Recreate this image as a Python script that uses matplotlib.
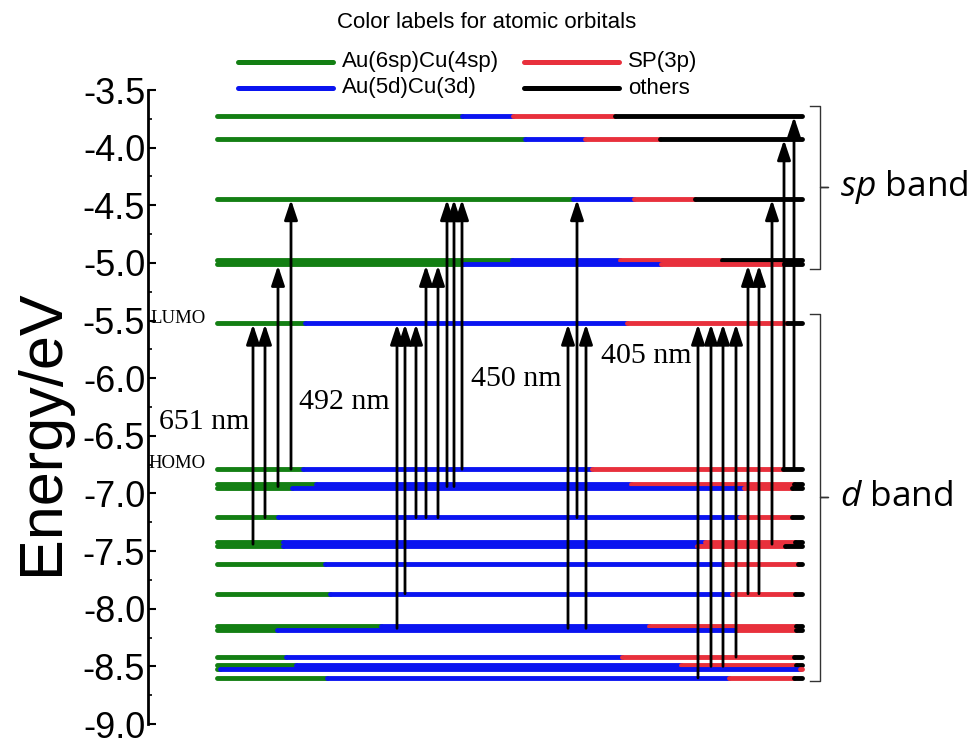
import matplotlib
matplotlib.use('Agg')
import matplotlib.pyplot as plt
from matplotlib.lines import Line2D

plt.rcParams['font.family'] = ['Liberation Sans', 'DejaVu Sans']
plt.rcParams['axes.unicode_minus'] = False
plt.rcParams['mathtext.fontset'] = 'custom'
plt.rcParams['mathtext.it'] = 'Open Sans:italic'
plt.rcParams['mathtext.rm'] = 'Open Sans'

# orbital levels (eV); near-degenerate pairs are listed as two rows
level_E = [-3.723, -3.921, -4.444, -4.972, -5.008, -5.517, -6.788, -6.920, -6.955,
           -7.208, -7.425, -7.458, -7.612, -7.869, -8.153, -8.187, -8.418, -8.487,
           -8.521, -8.601]
# x where each colour segment ends (green, blue, red); black runs to the end
green_end = [462, 525, 573, 512, 463, 305, 303, 316, 292, 278, 283, 283, 325, 330,
             381, 277, 286, 296, 220, 327]
blue_end = [513, 585, 634, 620, 661, 627, 592, 631, 744, 740, 705, 697, 725, 732,
            649, 737, 622, 681, 800, 729]
red_end = [615, 660, 695, 722, 784, 787, 783, 794, 792, 792, 795, 785, 798, 795,
           796, 796, 794, 796, 802, 794]
x_start, x_stop = 217, 802

# excitation arrows: x position, starting level, final level
arrow_x = [253, 265, 278, 291, 397, 405, 416, 426, 438, 447, 454, 462,
           568, 577, 586, 698, 711, 723, 736, 748, 759, 772, 784, 794]
arrow_from = [-7.44, -7.21, -6.94, -6.79, -8.17, -7.87, -7.21, -7.21, -7.21, -6.94,
              -6.94, -6.79, -8.17, -7.21, -8.17, -8.60, -8.50, -8.50, -8.42, -7.87,
              -7.87, -7.44, -6.79, -6.79]
arrow_to = [-5.52, -5.52, -5.01, -4.44, -5.52, -5.52, -5.52, -5.01, -5.01, -4.44,
            -4.44, -4.44, -5.52, -4.44, -5.52, -5.52, -5.52, -5.52, -5.52, -5.01,
            -5.01, -4.44, -3.92, -3.72]

wavelengths = ['651 nm', '492 nm', '450 nm', '405 nm']
wl_x = [204, 344, 516, 646]
wl_E = [-6.38, -6.21, -6.01, -5.81]

orbital_labels = ['Au(6sp)Cu(4sp)', 'Au(5d)Cu(3d)', 'SP(3p)', 'others']
colors = ['#137f13', '#0a14f0', '#e8303c', '#000000']

W, H = 975, 747
top_px, bot_px = 90, 724
fig = plt.figure(figsize=(W / 100, H / 100), dpi=100)
ax = fig.add_axes([148 / W, 1 - bot_px / H, (W - 148) / W, (bot_px - top_px) / H])
ax.set_xlim(148, W)
ax.set_ylim(-9.0, -3.5)

for E, g, b, r in zip(level_E, green_end, blue_end, red_end):
    segs = [(x_start, g), (g, b), (b, r), (r, x_stop)]
    for (x0, x1), c in zip(segs, colors):
        if x1 > x0:
            ax.plot([x0, x1], [E, E], color=c, lw=3.5, solid_capstyle='round', zorder=2)

for x, e0, e1 in zip(arrow_x, arrow_from, arrow_to):
    ax.annotate('', xy=(x, e1), xytext=(x, e0),
                arrowprops=dict(arrowstyle='-|>,head_length=0.6,head_width=0.2',
                                mutation_scale=20, lw=2.0, color='k',
                                shrinkA=0, shrinkB=1.0), zorder=3)

for t, x, e in zip(wavelengths, wl_x, wl_E):
    ax.text(x, e, t, ha='center', va='center', fontsize=21.5,
            family='Liberation Serif', zorder=4)

ax.text(150, -5.48, 'LUMO', ha='left', va='center', fontsize=13.5,
        family='Liberation Serif')
ax.text(148, -6.74, 'HOMO', ha='left', va='center', fontsize=13.5,
        family='Liberation Serif')

# band brackets
for top, bot, mid, lab in [(-3.64, -5.05, -4.34, r'$sp$ band'),
                           (-5.44, -8.63, -7.03, r'$d$ band')]:
    ax.plot([810, 820, 820, 828, 820, 820, 810], [top, top, mid, mid, mid, bot, bot],
            color='#333333', lw=1.0, clip_on=False)
    ax.text(840, mid, lab, ha='left', va='center', fontsize=25.5, family='Open Sans')

ax.spines[['top', 'right', 'bottom']].set_visible(False)
ax.spines['left'].set_linewidth(2.0)
ax.spines['left'].set_bounds(-9.0, -3.5)
ax.set_xticks([])
ax.set_yticks([-3.5 - 0.5 * i for i in range(12)])
ax.set_yticks([-3.75 - 0.5 * i for i in range(11)], minor=True)
ax.tick_params(axis='y', which='major', direction='in', length=6, width=1.5,
               labelsize=26, pad=2)
ax.tick_params(axis='y', which='minor', direction='in', length=3, width=1.2)
ax.set_ylabel('Energy/eV', fontsize=44)
ax.yaxis.set_label_coords(-0.093, 0.46)

# colour legend
fig.text(487 / W, 1 - 22 / H, 'Color labels for atomic orbitals', ha='center',
         va='center', fontsize=16)
legend_pos = [(238, 62), (238, 88), (524, 62), (524, 88)]
for (lx, ly), lab, c in zip(legend_pos, orbital_labels, colors):
    fig.add_artist(Line2D([lx / W, (lx + 95) / W], [1 - ly / H, 1 - ly / H],
                          color=c, lw=3.6, solid_capstyle='round'))
    fig.text((lx + 104) / W, 1 - ly / H, lab, ha='left', va='center', fontsize=16)

fig.savefig('out.png', dpi=100)
